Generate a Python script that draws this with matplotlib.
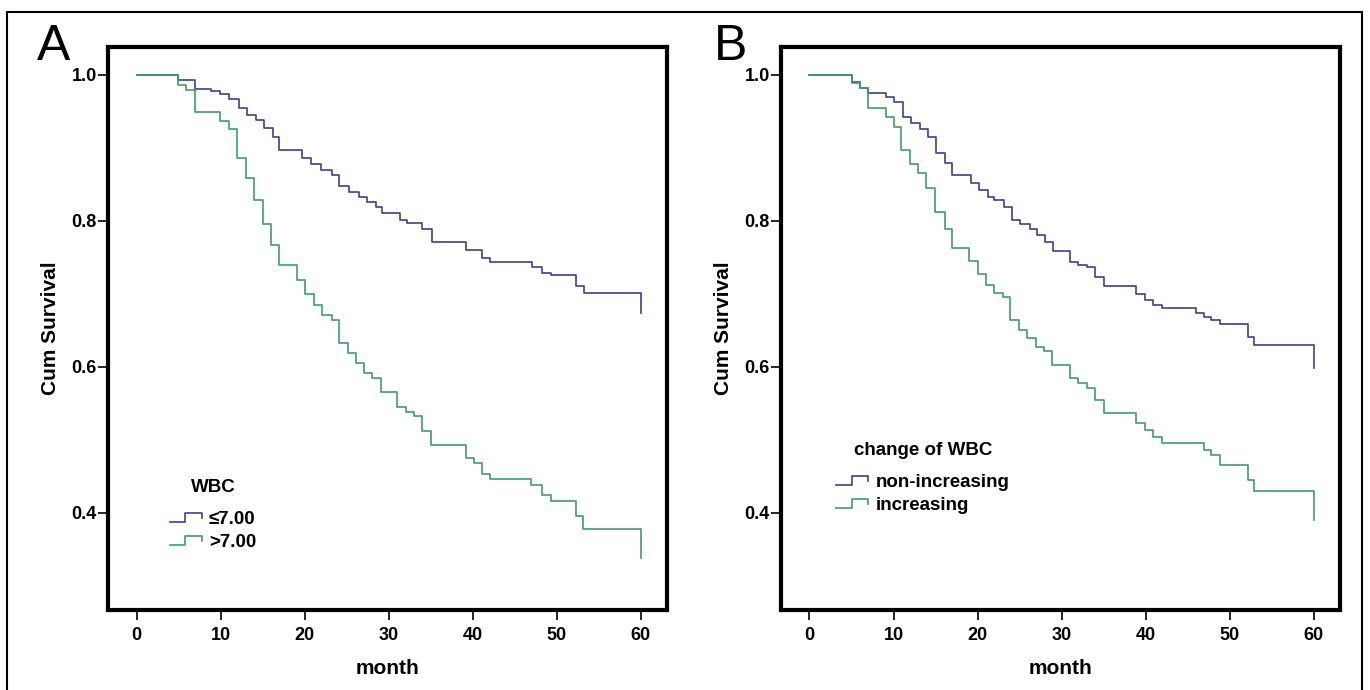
import numpy as np
import matplotlib
matplotlib.use('Agg')
import matplotlib.pyplot as plt
from matplotlib.lines import Line2D
from matplotlib.legend_handler import HandlerBase
from matplotlib.patches import Rectangle

# Kaplan-Meier step data (month, cumulative survival)
a_low_t = [0, 4.9, 6.9, 8.9, 9.9, 11.0, 12.2, 13.2, 14.2, 15.2, 16.2, 17.0, 19.7, 20.8, 22.0,
           23.2, 24.1, 25.3, 26.5, 27.4, 28.5, 29.2, 31.3, 32.2, 34.0, 35.2, 39.2, 41.1, 42.0,
           47.0, 48.2, 49.3, 52.3, 53.2, 60.0]
a_low_s = [1.0, 0.993, 0.981, 0.977, 0.973, 0.966, 0.955, 0.945, 0.938, 0.927, 0.914, 0.897, 0.886,
           0.877, 0.870, 0.863, 0.847, 0.840, 0.833, 0.826, 0.819, 0.811, 0.801, 0.797, 0.788,
           0.771, 0.760, 0.749, 0.744, 0.736, 0.729, 0.725, 0.710, 0.701, 0.674]

a_high_t = [0, 4.9, 5.9, 6.9, 9.9, 11.0, 12.0, 13.0, 14.0, 15.0, 16.0, 17.0, 19.1, 20.1, 21.1,
            22.1, 23.2, 24.1, 25.1, 26.1, 27.1, 28.0, 29.1, 31.0, 32.1, 33.0, 34.0, 35.0, 39.2,
            40.1, 41.1, 42.1, 46.9, 48.2, 49.3, 52.3, 53.1, 60.0]
a_high_s = [1.0, 0.986, 0.979, 0.949, 0.936, 0.925, 0.886, 0.858, 0.829, 0.795, 0.767, 0.740, 0.719,
            0.699, 0.685, 0.671, 0.664, 0.633, 0.619, 0.605, 0.592, 0.585, 0.566, 0.545, 0.538,
            0.532, 0.512, 0.493, 0.475, 0.468, 0.453, 0.447, 0.438, 0.425, 0.416, 0.395, 0.378,
            0.338]

b_non_t = [0, 5.0, 6.0, 7.0, 9.1, 10.1, 11.1, 12.1, 13.1, 14.1, 15.0, 16.1, 17.0, 19.2, 20.2,
           21.2, 22.0, 23.2, 24.1, 25.1, 26.2, 27.1, 28.0, 29.0, 31.0, 32.0, 33.0, 34.0, 35.0,
           38.9, 39.9, 40.9, 41.9, 46.0, 46.9, 47.8, 48.8, 52.2, 52.9, 60.0]
b_non_s = [1.0, 0.990, 0.982, 0.975, 0.970, 0.963, 0.942, 0.934, 0.925, 0.914, 0.893, 0.879, 0.863,
           0.852, 0.842, 0.833, 0.829, 0.819, 0.801, 0.795, 0.788, 0.781, 0.771, 0.758, 0.744,
           0.740, 0.736, 0.723, 0.710, 0.699, 0.692, 0.685, 0.680, 0.674, 0.668, 0.664, 0.658,
           0.641, 0.630, 0.598]

b_inc_t = [0, 5.0, 6.0, 7.0, 9.1, 10.1, 10.9, 11.9, 12.9, 13.9, 14.9, 16.1, 17.0, 19.0, 20.0,
           21.0, 22.0, 23.0, 23.9, 24.9, 25.9, 26.9, 27.9, 28.9, 31.0, 32.0, 33.0, 34.0, 35.0,
           38.9, 39.9, 40.9, 41.9, 46.9, 47.8, 48.8, 52.2, 52.9, 60.0]
b_inc_s = [1.0, 0.989, 0.982, 0.955, 0.942, 0.929, 0.897, 0.877, 0.866, 0.845, 0.812, 0.788, 0.763,
           0.745, 0.727, 0.712, 0.701, 0.696, 0.664, 0.651, 0.640, 0.627, 0.621, 0.603, 0.585,
           0.578, 0.571, 0.555, 0.537, 0.523, 0.514, 0.504, 0.496, 0.486, 0.479, 0.466, 0.445,
           0.430, 0.390]

x_ticks = [0, 10, 20, 30, 40, 50, 60]
y_ticks = [0.4, 0.6, 0.8, 1.0]

blue = '#3d3f8f'
green = '#3f9d6c'
narrow = ['Liberation Sans Narrow', 'Liberation Sans', 'DejaVu Sans']
wide = ['Liberation Sans', 'DejaVu Sans']


class StepHandler(HandlerBase):
    # little step glyph, like the SPSS legend
    def create_artists(self, legend, orig_handle, xdescent, ydescent, width, height, fontsize, trans):
        xs = np.array([0.0, 0.45, 0.45, 0.95, 0.95]) * width - xdescent
        ys = np.array([0.15, 0.15, 0.85, 0.85, 0.45]) * height - ydescent
        ln = Line2D(xs, ys, color=orig_handle.get_color(), lw=1.2)
        ln.set_transform(trans)
        return [ln]


fig = plt.figure(figsize=(13.7, 6.9), dpi=100)
fig.patches.append(Rectangle((0.005, -0.05), 0.989, 1.033, transform=fig.transFigure,
                             fill=False, ec='black', lw=1.5))

panels = [
    ('A', 0.0788, 0.027, [(a_low_t, a_low_s, blue, '≤7.00'), (a_high_t, a_high_s, green, '>7.00')],
     'WBC', (0.080, 0.263)),
    ('B', 0.570, 0.521, [(b_non_t, b_non_s, blue, 'non-increasing'), (b_inc_t, b_inc_s, green, 'increasing')],
     'change of WBC', (0.069, 0.329)),
]

for letter, left, letter_x, curves, title, anchor in panels:
    ax = fig.add_axes([left, 0.116, 0.408, 0.816])
    handles = []
    for t, s, c, lab in curves:
        h, = ax.plot(t, s, drawstyle='steps-post', color=c, lw=1.2, label=lab)
        handles.append(h)
    ax.set_xlim(-3.4, 63.1)
    ax.set_ylim(0.267, 1.038)
    ax.set_xticks(x_ticks)
    ax.set_yticks(y_ticks)
    ax.set_yticklabels([f'{v:.1f}' for v in y_ticks])
    for sp in ax.spines.values():
        sp.set_linewidth(3)
    ax.tick_params(direction='out', length=7, width=1.2)
    ax.tick_params(axis='x', pad=5)
    ax.tick_params(axis='y', pad=1)
    for lb in ax.get_xticklabels() + ax.get_yticklabels():
        lb.set_family(narrow)
        lb.set_fontweight('bold')
        lb.set_fontsize(13)
    ax.set_xlabel('month', family=narrow, fontweight='bold', fontsize=15, labelpad=11)
    ax.set_ylabel('Cum Survival', family=narrow, fontweight='bold', fontsize=15, labelpad=8)
    leg = ax.legend(handles=handles, title=title, loc='upper left', bbox_to_anchor=anchor,
                    frameon=False, handler_map={Line2D: StepHandler()},
                    prop={'family': wide, 'weight': 'bold', 'size': 13.5},
                    handlelength=1.8, handletextpad=0.3, labelspacing=0.3)
    leg.get_title().set_fontproperties({'family': wide, 'weight': 'bold', 'size': 13.5})
    leg._legend_box.align = 'center'
    leg._legend_box.sep = 11
    fig.text(letter_x, 0.913, letter, fontsize=36, family=wide, ha='left', va='baseline')

fig.savefig('out.png', dpi=100)
